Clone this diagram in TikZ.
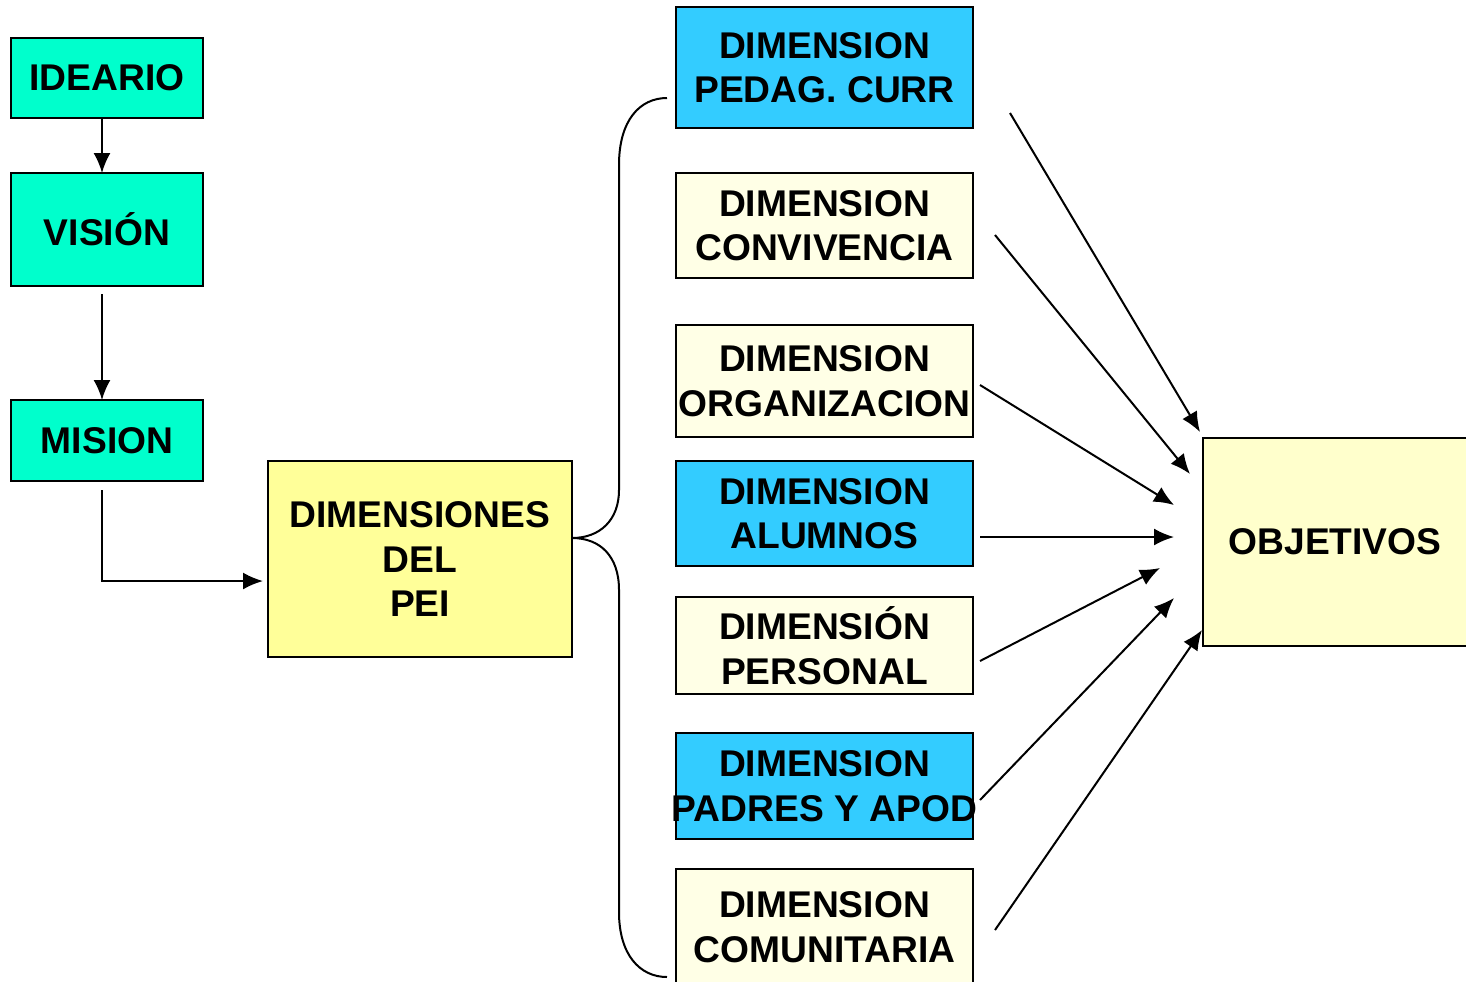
\documentclass[tikz,border=0pt]{standalone}
\usepackage{fontspec}
\setmainfont{Liberation Sans}
\usetikzlibrary{arrows.meta}
\definecolor{teal1}{HTML}{00FFCC}
\definecolor{blue1}{HTML}{33CCFF}
\definecolor{cream1}{HTML}{FFFFE6}
\definecolor{yellow1}{HTML}{FFFF99}
\definecolor{obj1}{HTML}{FFFFCC}
\begin{document}
\begin{tikzpicture}[x=0.5pt,y=-0.5pt,
  box/.style={draw=black, line width=1.2pt, inner sep=0pt, align=center,
    font=\fontsize{18.6}{22.3}\selectfont\bfseries},
  con/.style={line width=1pt, -{Latex[length=10pt,width=8.5pt]}},
  brace/.style={line width=1pt}]
\useasboundingbox (0,0) rectangle (1466,981);
% left column
\node[box, fill=teal1, minimum width=96pt, minimum height=40pt] (ide) at (107,78) {IDEARIO};
\node[box, fill=teal1, minimum width=96pt, minimum height=56.5pt] (vis) at (107,229.5) {VISIÓN};
\node[box, fill=teal1, minimum width=96pt, minimum height=40.5pt] (mis) at (107,440.5) {MISION};
\node[box, fill=yellow1, minimum width=152pt, minimum height=98pt] (pei) at (420,559) {DIMENSIONES\\DEL\\PEI};
% right column
\node[box, fill=blue1, minimum width=148.5pt, minimum height=60.5pt] (ped) at (824.5,67.5) {DIMENSION\\PEDAG. CURR};
\node[box, fill=cream1, minimum width=148.5pt, minimum height=52.5pt] (conv) at (824.5,225.5) {DIMENSION\\CONVIVENCIA};
\node[box, fill=cream1, minimum width=148.5pt, minimum height=56pt] (org) at (824.5,381) {DIMENSION\\\makebox[0pt]{ORGANIZACION}};
\node[box, fill=blue1, minimum width=148.5pt, minimum height=52.5pt] (alu) at (824.5,513.5) {DIMENSION\\ALUMNOS};
\node[box, fill=cream1, minimum width=148.5pt, minimum height=48.5pt] (per) at (824.5,645.5) {DIMENSIÓN\\PERSONAL};
\node[box, fill=blue1, minimum width=148.5pt, minimum height=53pt] (pad) at (824.5,786) {DIMENSION\\\makebox[0pt]{PADRES Y APOD}};
\node[box, fill=cream1, minimum width=148.5pt, minimum height=58pt] (com) at (824.5,927) {DIMENSION\\COMUNITARIA};
\node[box, fill=obj1, minimum width=132pt, minimum height=104pt] (obj) at (1335,542) {OBJETIVOS};
% left connectors
\coordinate (a1) at (102,118);
\coordinate (a1e) at (102,173);
\coordinate (a2) at (102,294);
\coordinate (a2e) at (102,400);
\coordinate (a3) at (102,490);
\coordinate (a3c) at (102,581);
\coordinate (a3e) at (263,581);
\draw[con] (a1) -- (a1e);
\draw[con] (a2) -- (a2e);
\draw[con] (a3) -- (a3c) -- (a3e);
% brace
\coordinate (bm) at (572,538);
\coordinate (bt) at (667,98);
\coordinate (bb) at (667,977);
\draw[brace] (bm) .. controls (600,538) and (619,520) .. (619,490)
  -- (619,165) .. controls (619,120) and (640,98) .. (bt);
\draw[brace] (bm) .. controls (600,538) and (619,556) .. (619,590)
  -- (619,912) .. controls (619,955) and (640,977) .. (bb);
% arrows to objetivos
\coordinate (s1) at (1010,113); \coordinate (e1) at (1200,432);
\coordinate (s2) at (995,235);  \coordinate (e2) at (1190,474);
\coordinate (s3) at (980,385);  \coordinate (e3) at (1174,505);
\coordinate (s4) at (980,537);  \coordinate (e4) at (1174,537);
\coordinate (s5) at (980,661);  \coordinate (e5) at (1160,568);
\coordinate (s6) at (980,800);  \coordinate (e6) at (1174,598);
\coordinate (s7) at (995,930);  \coordinate (e7) at (1202,630);
\foreach \i in {1,...,7} \draw[con] (s\i) -- (e\i);
\end{tikzpicture}
\end{document}
